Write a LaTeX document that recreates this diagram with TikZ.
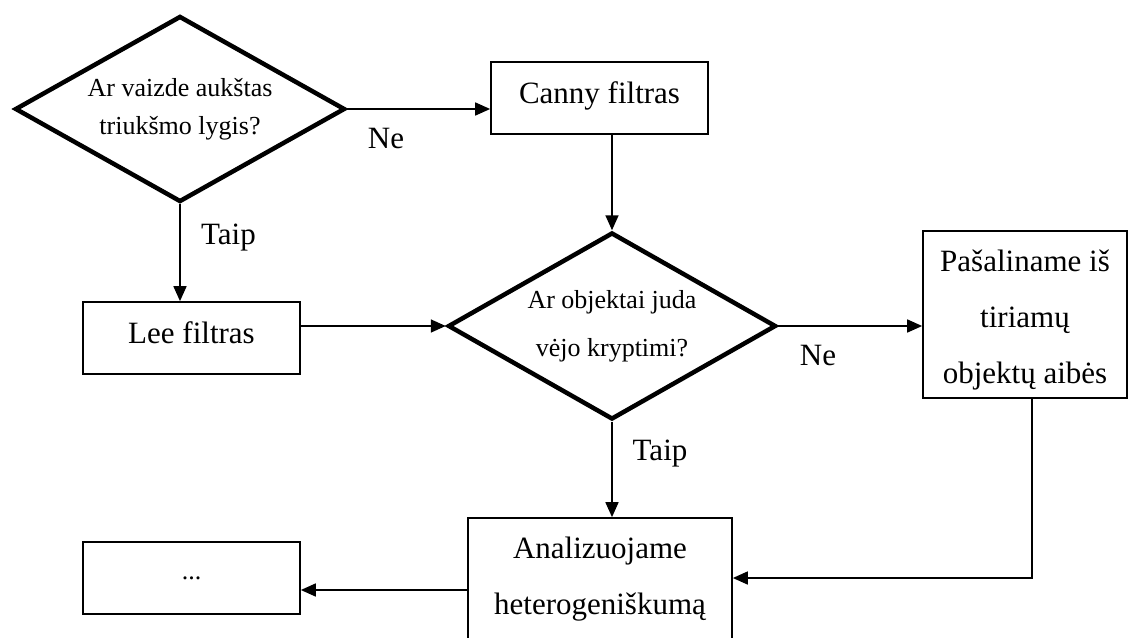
\documentclass[tikz,border=0pt]{standalone}
\usepackage{fontspec}
\setmainfont{Liberation Serif}
\usetikzlibrary{shapes.geometric,arrows.meta,calc}
\begin{document}
\begin{tikzpicture}[x=1pt,y=-1pt,
  box/.style={draw,line width=1.7pt,inner sep=0pt,align=center,font=\fontsize{31}{56}\selectfont},
  dec/.style={draw,diamond,aspect=1.77,line width=4.5pt,inner sep=0pt,align=center},
  lbl/.style={font=\fontsize{31}{36}\selectfont,inner sep=0pt},
  arr/.style={line width=1.7pt,-{Triangle[length=15pt,width=13pt]}}]
\useasboundingbox (0,0) rectangle (1129,637);
\fill[white] (0,0) rectangle (1129,637);
% decisions
\node[dec,minimum width=330pt,minimum height=186pt,font=\fontsize{26}{38}\selectfont] (d1) at (180,109) {Ar vaizde aukštas\\triukšmo lygis?};
\node[dec,minimum width=328pt,minimum height=187pt,font=\fontsize{26}{48}\selectfont] (d2) at (612,326) {Ar objektai juda\\vėjo kryptimi?};
% boxes
\node[box,minimum width=217pt,minimum height=72pt,text height=22pt,text depth=12pt] (canny) at (599.5,98) {Canny filtras};
\node[box,minimum width=217pt,minimum height=72pt,text height=22pt,text depth=12pt] (lee) at (191.5,338) {Lee filtras};
\node[box,minimum width=217pt,minimum height=72pt,font=\fontsize{26}{30}\selectfont] (dots) at (191.5,578) {...};
\node[box,minimum width=204pt,minimum height=167pt,text height=145pt,text depth=7pt] (pas) at (1025,314.5) {Pašaliname iš\\tiriamų\\objektų aibės};
\node[box,minimum width=264pt,minimum height=122pt] (an) at (600,579) {Analizuojame\\heterogeniškumą};
% labels
\node[lbl] (ne1) at (386,138) {Ne};
\node[lbl] (taip1) at (228.5,237.5) {Taip};
\node[lbl] (ne2) at (818,355) {Ne};
\node[lbl] (taip2) at (660,454) {Taip};
% connectors
\draw[arr] (d1.east) -- (d1.east -| canny.west);
\draw[arr] (d2.north |- canny.south) -- (d2.north);
\draw[arr] (d1.south) -- (d1.south |- lee.north);
\draw[arr] (lee.east |- d2.west) -- (d2.west);
\draw[arr] (d2.east) -- (d2.east -| pas.west);
\draw[arr] (d2.south) -- (d2.south |- an.north);
\coordinate (bend) at (1032,578);
\draw[arr] (bend |- pas.south) -- (bend) -- (bend -| an.east);
\coordinate (dl) at (400,590);
\draw[arr] (an.west |- dl) -- (dots.east |- dl);
\end{tikzpicture}
\end{document}
